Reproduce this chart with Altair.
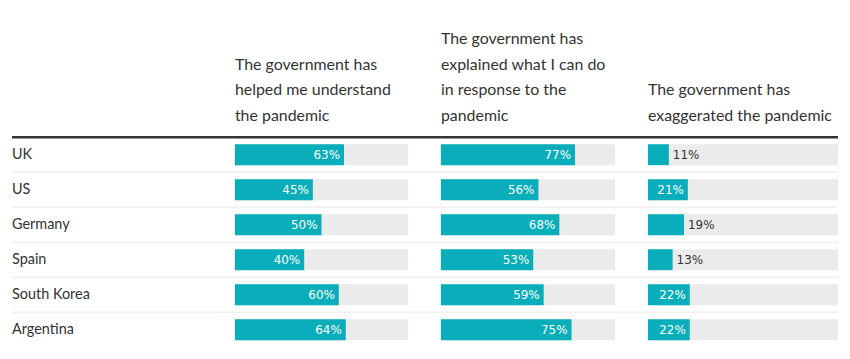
import altair as alt
import pandas as pd

countries = ["UK", "US", "Germany", "Spain", "South Korea", "Argentina"]
helped = [63, 45, 50, 40, 60, 64]
explained = [77, 56, 68, 53, 59, 75]
exaggerated = [11, 21, 19, 13, 22, 22]
headers = [
    ["The government has", "helped me understand", "the pandemic"],
    ["The government has", "explained what I can do", "in response to the", "pandemic"],
    ["The government has", "exaggerated the pandemic"],
]

TEAL = "#0AAEBA"
GRAY = "#EBEBEB"
SEP = "#E8E8E8"
DARK = "#333333"
FONT = "Lato"
VFONT = "DejaVu Sans"
ROW_H = 211
BAR_H = 21
LINE_H = 26

yscale = alt.Scale(paddingInner=0, paddingOuter=0)
one = pd.DataFrame({"k": [0]})


def Y(**kw):
    return alt.Y("country:N", sort=countries, scale=yscale, axis=None, **kw)


def decorations(header=None):
    df = pd.DataFrame({"country": countries})
    sep = (
        alt.Chart(df)
        .transform_filter(alt.datum.country != countries[0])
        .mark_rule(color=SEP, strokeWidth=1)
        .encode(y=Y(bandPosition=0))
    )
    top = alt.Chart(one).mark_rule(color=DARK, strokeWidth=2.5).encode(y=alt.value(0))
    layers = [sep, top]
    if header is not None:
        layers.append(
            alt.Chart(one)
            .mark_text(
                text=header, align="left", baseline="alphabetic", font=FONT,
                fontSize=16, lineHeight=LINE_H, color=DARK,
            )
            .encode(x=alt.value(0), y=alt.value(-16 - (len(header) - 1) * LINE_H))
        )
    return layers


def label_panel():
    df = pd.DataFrame({"country": countries})
    lab = (
        alt.Chart(df)
        .mark_text(align="left", baseline="middle", font=FONT, fontSize=14.5, color=DARK)
        .encode(y=Y(), x=alt.value(0), text="country:N")
    )
    return alt.layer(*decorations(), lab).properties(width=224, height=ROW_H)


def bar_panel(vals, header, bar_len, width):
    df = pd.DataFrame({"country": countries, "v": vals})
    xs = alt.Scale(domain=[0, 100], range=[0, bar_len])
    base = alt.Chart(df).transform_calculate(full="100", label="datum.v + '%'")
    bg = base.mark_bar(height=BAR_H, color=GRAY).encode(
        y=Y(), x=alt.X("full:Q", scale=xs, axis=None)
    )
    fg = base.mark_bar(height=BAR_H, color=TEAL).encode(
        y=Y(), x=alt.X("v:Q", scale=xs, axis=None)
    )
    tin = (
        base.transform_filter("datum.v >= 20")
        .mark_text(align="right", baseline="middle", dx=-4, color="white", font=VFONT, fontSize=12)
        .encode(y=Y(), x=alt.X("v:Q", scale=xs, axis=None), text="label:N")
    )
    tout = (
        base.transform_filter("datum.v < 20")
        .mark_text(align="left", baseline="middle", dx=4, color=DARK, font=VFONT, fontSize=12)
        .encode(y=Y(), x=alt.X("v:Q", scale=xs, axis=None), text="label:N")
    )
    return alt.layer(*decorations(header), bg, fg, tin, tout).properties(width=width, height=ROW_H)


chart = (
    alt.hconcat(
        label_panel(),
        bar_panel(helped, headers[0], 174, 207),
        bar_panel(explained, headers[1], 175, 208),
        bar_panel(exaggerated, headers[2], 191, 191),
        spacing=0,
        bounds="flush",
    )
    .properties(padding={"left": 2, "top": 22, "right": 2, "bottom": 2})
    .configure_view(stroke=None)
)

chart.save("out.html", embed_options={"renderer": "svg", "actions": False})
